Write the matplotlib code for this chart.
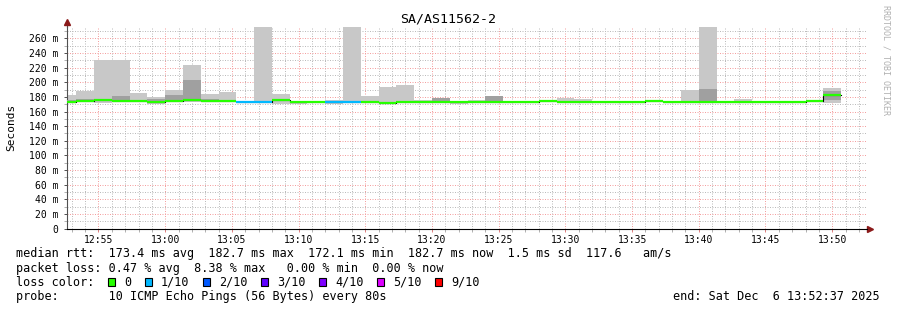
import pandas as pd
import matplotlib.pyplot as plt
import matplotlib.dates as mdates
from matplotlib.patches import Rectangle
from matplotlib.ticker import MultipleLocator, FuncFormatter

MONO = 'DejaVu Sans Mono'

# 80 s smokeping steps, values in ms
bin_start = pd.date_range('2025-12-06 12:52:00', periods=44, freq='80s')
smoke_min = [171, 173, 172, 173, 173, 170, 173, 173, 173, 173,
             173, 173, 170.5, 170.5, 172.5, 170.5, 173, 173, 171, 173,
             173, 173, 170.5, 172.5, 173, 172.8, 172.8, 173, 172.8, 172.8,
             172.8, 172.8, 172.8, 173, 172.8, 173, 173, 172.8, 172.8, 172.8,
             172.8, 172.8, 173, 172]
smoke_max = [183, 188.5, 230, 230, 185.5, 180, 190, 224, 184, 187,
             174, 300, 184, 173.8, 173.8, 176, 300, 181, 193.5, 196.5,
             176, 178.5, 173.8, 176, 181, 174, 174, 176, 179, 177.5,
             174, 174, 174, 176, 174, 190, 300, 174, 177, 174,
             174, 174, 176, 192]
nan = float('nan')
dark_lo = [174.5, 174, 174, 174, nan, 173, 174, 174, 174, nan,
           nan, nan, nan, nan, nan, nan, nan, nan, nan, nan,
           nan, 173, nan, nan, 173, nan, nan, nan, nan, nan,
           nan, nan, nan, nan, nan, nan, 174, nan, nan, nan,
           nan, nan, nan, 175.5]
dark_hi = [176, 177, 177.5, 181, nan, 177.5, 182.5, 203.5, 177, nan,
           nan, nan, nan, nan, nan, nan, nan, nan, nan, nan,
           nan, 178, nan, nan, 181, nan, nan, nan, nan, nan,
           nan, nan, nan, nan, nan, nan, 191, nan, nan, nan,
           nan, nan, nan, 188]
median = [172.5, 174, 175.5, 174.5, 175, 172.5, 175, 176, 174.5, 174.5,
          173.4, 173.4, 175.5, 173.2, 173.2, 173.4, 173.4, 173.4, 171.6, 173.4,
          173.4, 173.4, 173.2, 173.2, 173.2, 173.2, 173.2, 174.6, 173.2, 173.2,
          173.2, 173.2, 173.2, 175, 173.2, 173.2, 173.2, 173.2, 173.2, 173.2,
          173.2, 173.2, 175, 182.7]
loss_tenths = [0, 0, 0, 0, 0, 0, 0, 0, 0, 0,
               1, 1, 0, 0, 0, 1, 1, 0, 0, 0,
               0, 0, 0, 0, 0, 0, 0, 0, 0, 0,
               0, 0, 0, 0, 0, 0, 0, 0, 0, 0,
               0, 0, 0, 0]

loss_labels = ['0', '1/10', '2/10', '3/10', '4/10', '5/10', '9/10']
loss_colors = ['#26ff00', '#00b8ff', '#0059ff', '#5e00ff', '#7e00ff', '#dd00ff', '#ff0000']
color_of = {0: '#26ff00', 1: '#00b8ff', 2: '#0059ff', 3: '#5e00ff', 4: '#7e00ff', 5: '#dd00ff', 9: '#ff0000'}

title = 'SA/AS11562-2'
end_time = pd.Timestamp('2025-12-06 13:52:37')
legend_lines = [
    'median rtt:  173.4 ms avg  182.7 ms max  172.1 ms min  182.7 ms now  1.5 ms sd  117.6   am/s',
    'packet loss: 0.47 % avg  8.38 % max   0.00 % min  0.00 % now',
    'loss color:',
    'probe:       10 ICMP Echo Pings (56 Bytes) every 80s',
]
end_label = 'end: Sat Dec  6 13:52:37 2025'

W, H = 897, 310
fig = plt.figure(figsize=(W / 100, H / 100), dpi=100)
ax_l, ax_r, ax_t, ax_b = 66.7, 867.1, 27.0, 228.7
ax = fig.add_axes([ax_l / W, 1 - ax_b / H, (ax_r - ax_l) / W, (ax_b - ax_t) / H])

x0 = mdates.date2num(bin_start)
step = 80 / 86400.0

# smoke
ax.bar(x0, [hi - lo for lo, hi in zip(smoke_min, smoke_max)], bottom=smoke_min,
       width=step, align='edge', color='#c8c8c8', linewidth=0, zorder=2)
ax.bar(x0, [hi - lo for lo, hi in zip(dark_lo, dark_hi)], bottom=dark_lo,
       width=step, align='edge', color='#a0a0a0', linewidth=0, zorder=3)

# median, black transitions then loss coloured segments
edges = list(x0) + [x0[-1] + step]
ax.step(edges, median + [median[-1]], where='post', color='black', lw=0.8, zorder=4)
ax.hlines(median, x0, x0 + step, colors=[color_of[l] for l in loss_tenths], lw=1.6, zorder=5)

ax.set_xlim(mdates.date2num(end_time - pd.Timedelta(hours=1)), mdates.date2num(end_time))
ax.set_ylim(0, 275.4)

ax.xaxis.set_major_locator(mdates.MinuteLocator(byminute=range(0, 60, 5)))
ax.xaxis.set_minor_locator(mdates.MinuteLocator())
ax.xaxis.set_major_formatter(mdates.DateFormatter('%H:%M'))
ax.yaxis.set_major_locator(MultipleLocator(20))
ax.yaxis.set_minor_locator(MultipleLocator(10))
ax.yaxis.set_major_formatter(FuncFormatter(lambda v, p: '0' if v == 0 else '%d m' % v))

dots = (0, (1, 1.5))
ax.grid(which='minor', color='#bcbcbc', lw=0.72, ls=dots, zorder=1)
ax.grid(which='major', color='#f4a0a0', lw=0.72, ls=dots, zorder=1)
ax.set_axisbelow(True)

for s in ['top', 'right']:
    ax.spines[s].set_visible(False)
ax.spines['left'].set_color('#505050')
ax.spines['bottom'].set_color('black')
ax.spines['left'].set_linewidth(0.8)
ax.spines['bottom'].set_linewidth(0.8)

ax.tick_params(which='both', direction='out', labelsize=7, length=2, width=0.7)
ax.tick_params(axis='x', which='major', colors='#e08080', labelcolor='black', pad=2.5)
ax.tick_params(axis='x', which='minor', colors='#b0b0b0', length=2)
ax.tick_params(axis='y', which='major', colors='#505050', labelcolor='black', pad=4)
ax.tick_params(axis='y', which='minor', colors='#b0b0b0')
for lab in ax.get_xticklabels() + ax.get_yticklabels():
    lab.set_family(MONO)

# axis arrows
ax.plot([0, 0], [1, 1.02], transform=ax.transAxes, color='#505050', lw=0.8, clip_on=False)
ax.plot([1, 1.003], [0, 0], transform=ax.transAxes, color='black', lw=0.8, clip_on=False)
ax.plot([0], [1.025], marker='^', ms=4, color='#8b1a1a', transform=ax.transAxes, clip_on=False)
ax.plot([1.004], [0], marker='>', ms=4, color='#8b1a1a', transform=ax.transAxes, clip_on=False)

fig.text(448.5 / W, 1 - 19 / H, title, ha='center', va='center', family=MONO, fontsize=9.5)
fig.text(11 / W, 1 - 127 / H, 'Seconds', ha='center', va='center', rotation=90,
         family=MONO, fontsize=8)
fig.text(886 / W, 1 - 5 / H, 'RRDTOOL / TOBI OETIKER', ha='center', va='top', rotation=270,
         family=MONO, fontsize=6, color='#b0b0b0')

rows_y = [254, 268.5, 282.3, 296.3]
for txt, yy in zip(legend_lines, rows_y):
    fig.text(16 / W, 1 - yy / H, txt, ha='left', va='center', family=MONO, fontsize=8.5)
fig.text(880 / W, 1 - rows_y[3] / H, end_label, ha='right', va='center', family=MONO, fontsize=8.5)

# loss colour boxes
bx = 108
for lab, col in zip(loss_labels, loss_colors):
    fig.patches.append(Rectangle((bx / W, 1 - (rows_y[2] + 4) / H), 7 / W, 8 / H,
                                 transform=fig.transFigure, facecolor=col,
                                 edgecolor='black', lw=0.8))
    fig.text((bx + 16) / W, 1 - rows_y[2] / H, lab, ha='left', va='center',
             family=MONO, fontsize=8.5)
    bx += 16 + 7 * len(lab) + 14

fig.savefig('out.png', dpi=100, facecolor='white')
